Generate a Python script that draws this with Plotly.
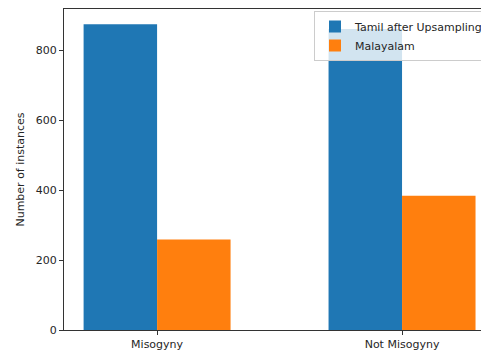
import plotly.graph_objects as go

categories = ["Misogyny", "Not Misogyny"]
tamil_upsampled = [875, 862]
malayalam = [259, 384]
series_names = ["Tamil after Upsampling", "Malayalam"]
y_ticks = [0, 200, 400, 600, 800]

x_pos = list(range(len(categories)))
font = dict(family="DejaVu Sans", size=11, color="#262626")

fig = go.Figure()
fig.add_trace(go.Bar(x=x_pos, y=tamil_upsampled, name=series_names[0],
                     marker=dict(color="#1f77b4", line=dict(width=0))))
fig.add_trace(go.Bar(x=x_pos, y=malayalam, name=series_names[1],
                     marker=dict(color="#ff7f0e", line=dict(width=0))))

# page has an 8px body margin, so the figure is sized 481x344
fig.update_layout(
    width=481, height=344,
    margin=dict(l=56, r=0, t=1, b=22, autoexpand=False),
    paper_bgcolor="white", plot_bgcolor="white",
    barmode="group", bargap=0.4, bargroupgap=0,
    font=font,
    showlegend=True,
    legend=dict(x=1, xanchor="right", y=1 - 2 / 321, yanchor="top",
                bgcolor="rgba(255,255,255,0.8)", bordercolor="#cccccc",
                borderwidth=1, font=font,
                tracegroupgap=0, itemwidth=30),
)
fig.update_xaxes(
    range=[-0.38, 1.355], tickvals=x_pos, ticktext=categories,
    showline=True, linecolor="#333333", linewidth=1, mirror=True,
    ticks="outside", ticklen=4, tickcolor="#333333",
    showgrid=False, zeroline=False, tickfont=font,
)
fig.update_yaxes(
    range=[0, 919], tickvals=y_ticks,
    showline=True, linecolor="#333333", linewidth=1, mirror=False,
    ticks="outside", ticklen=4, tickcolor="#333333",
    showgrid=False, zeroline=False, tickfont=font,
    title=dict(text="Number of instances", font=font, standoff=8),
)
fig.write_html("out.html")
